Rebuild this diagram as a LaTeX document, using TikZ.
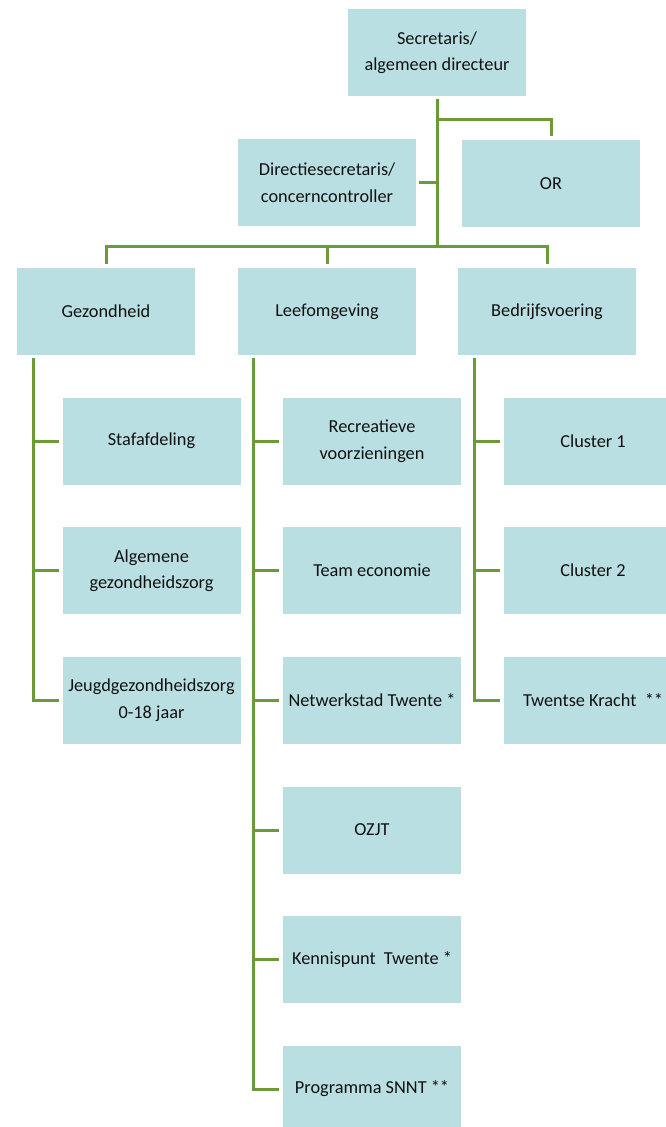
\documentclass[tikz,border=0pt]{standalone}
\usepackage{fontspec}
\setmainfont{Carlito}
\definecolor{boxfill}{HTML}{BADFE2}
\definecolor{linegreen}{HTML}{6A9B38}
\definecolor{txt}{HTML}{111111}
\begin{document}
\begin{tikzpicture}[x=1pt,y=-1pt,
  orgbox/.style={fill=boxfill,draw=white,line width=1pt,minimum width=179pt,minimum height=88pt,
    align=center,text=txt,font=\fontsize{18.3}{26.5}\selectfont,inner sep=2pt},
  conn/.style={draw=linegreen,line width=3pt}]
\useasboundingbox (0,0) rectangle (666,1127);
\clip (0,0) rectangle (666,1127);
% top level
\node[orgbox] (sec) at (437,52.5) {Secretaris/\\algemeen directeur};
\node[orgbox] (dir) at (327,182.5) {Directiesecretaris/\\concerncontroller};
\node[orgbox] (or)  at (551,183.5) {OR};
% departments
\node[orgbox] (gez) at (106,311.5) {Gezondheid};
\node[orgbox] (lee) at (327,311.5) {Leefomgeving};
\node[orgbox] (bed) at (547,311.5) {Bedrijfsvoering};
% Gezondheid children
\node[orgbox] (gz1) at (151.5,441) {Stafafdeling};
\node[orgbox] (gz2) at (151.5,570.5) {Algemene\\gezondheidszorg};
\node[orgbox] (gz3) at (151.5,700) {Jeugdgezondheidszorg\\0-18 jaar};
% Leefomgeving children
\node[orgbox] (lf1) at (372,441) {Recreatieve\\voorzieningen};
\node[orgbox] (lf2) at (372,570.5) {Team economie};
\node[orgbox] (lf3) at (372,700) {Netwerkstad Twente *};
\node[orgbox] (lf4) at (372,830) {OZJT};
\node[orgbox] (lf5) at (372,959) {Kennispunt\ \ Twente *};
\node[orgbox] (lf6) at (372,1089) {Programma SNNT **};
% Bedrijfsvoering children
\node[orgbox] (bv1) at (593,441) {Cluster 1};
\node[orgbox] (bv2) at (593,570.5) {Cluster 2};
\node[orgbox] (bv3) at (593,700) {Twentse Kracht\ \ **};
% coordinates
\coordinate (bus) at (437,246.5);
\coordinate (orbr) at (437,119);
\coordinate (gzl) at (33,358);
\coordinate (lfl) at (253,358);
\coordinate (bvl) at (474,358);
% top connectors
\draw[conn,shorten <=2pt] (sec.south) -- (bus);
\draw[conn,shorten >=3pt] (orbr) -| (or.north);
\draw[conn,shorten <=2pt] (dir.east) -- (dir.east -| orbr);
\draw[conn,shorten <=3pt,shorten >=3pt] (gez.north) |- (bus) -| (bed.north);
\draw[conn,shorten <=3pt] (lee.north) -- (lee.north |- bus);
% Gezondheid
\draw[conn,shorten >=3pt] (gzl) |- (gz3.west);
\draw[conn,shorten >=3pt] (gz1.west -| gzl) -- (gz1.west);
\draw[conn,shorten >=3pt] (gz2.west -| gzl) -- (gz2.west);
% Leefomgeving
\draw[conn,shorten >=3pt] (lfl) |- (lf6.west);
\foreach \n in {lf1,lf2,lf3,lf4,lf5}
  \draw[conn,shorten >=3pt] (\n.west -| lfl) -- (\n.west);
% Bedrijfsvoering
\draw[conn,shorten >=3pt] (bvl) |- (bv3.west);
\draw[conn,shorten >=3pt] (bv1.west -| bvl) -- (bv1.west);
\draw[conn,shorten >=3pt] (bv2.west -| bvl) -- (bv2.west);
\end{tikzpicture}
\end{document}
